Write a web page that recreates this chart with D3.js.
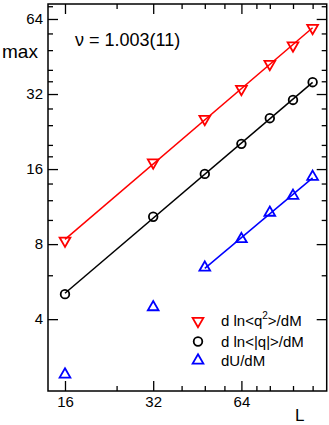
<!DOCTYPE html>
<html><head><meta charset="utf-8">
<script src="https://cdn.jsdelivr.net/npm/d3@7"></script>
<style>body{margin:0;background:#fff}svg{display:block}</style>
</head><body>
<svg id="c" width="329" height="425"></svg>
<script>
const L = [16, 32, 48, 64, 80, 96, 112];
const dlnq2 = [8.26, 17.0, 25.4, 33.5, 42.2, 50.1, 58.9];
const dlnq = [5.04, 10.3, 15.3, 20.2, 25.6, 30.3, 35.7];
const dU = [2.4, 4.47, 6.44, 8.38, 10.7, 12.5, 14.9];
const xMajor = [16, 32, 64];
const xMinor = [24, 40, 48, 56, 72, 80, 96, 112];
const yMajor = [4, 8, 16, 32, 64];
const yMinor = [6, 10, 12, 14, 18, 20, 24, 28, 36, 40, 48, 56, 72];
const legendLabels = ["d ln<q²>/dM", "d ln<|q|>/dM", "dU/dM"];
const nuText = "ν = 1.003(11)";

const m = {l: 48, t: 4, r: 326.7, b: 391};
const svg = d3.select("#c");
const x = d3.scaleLog().base(2).domain([14.0, 125.1]).range([m.l, m.r]);
const y = d3.scaleLog().base(2).domain([2.06, 73.5]).range([m.b, m.t]);
const font = "'Liberation Sans', Arial, Helvetica, sans-serif";

function axis(gen, tr, vals, size, labels, pad) {
  const a = gen.tickValues(vals).tickSizeInner(size).tickSizeOuter(0).tickPadding(pad || 5)
    .tickFormat(labels ? d3.format("d") : () => "");
  const g = svg.append("g").attr("transform", tr).call(a);
  g.select(".domain").remove();
  g.selectAll("line").attr("stroke", "#000").attr("stroke-width", 1.3);
  g.selectAll("text").attr("font-family", font).attr("font-size", 15).attr("fill", "#000");
  return g;
}
const W = m.r - m.l, H = m.b - m.t;
axis(d3.axisBottom(x), `translate(0,${m.b})`, xMajor, -10, true, 5);
axis(d3.axisBottom(x), `translate(0,${m.b})`, xMinor, -5, false);
axis(d3.axisTop(x), `translate(0,${m.t})`, xMajor, -10, false);
axis(d3.axisTop(x), `translate(0,${m.t})`, xMinor, -5, false);
axis(d3.axisLeft(y), `translate(${m.l},0)`, yMajor, -10, true, 5);
axis(d3.axisLeft(y), `translate(${m.l},0)`, yMinor, -5, false);
axis(d3.axisRight(y), `translate(${m.r},0)`, yMajor, -10, false);
axis(d3.axisRight(y), `translate(${m.r},0)`, yMinor, -5, false);

svg.append("rect").attr("x", m.l).attr("y", m.t).attr("width", W).attr("height", H)
  .attr("fill", "none").attr("stroke", "#000").attr("stroke-width", 1.5);

function fit(xs, ys) {
  const lx = xs.map(Math.log), ly = ys.map(Math.log);
  const n = lx.length, mx = d3.mean(lx), my = d3.mean(ly);
  let sxy = 0, sxx = 0;
  for (let i = 0; i < n; i++) { sxy += (lx[i]-mx)*(ly[i]-my); sxx += (lx[i]-mx)**2; }
  const b = sxy / sxx, a = my - b*mx;
  return v => Math.exp(a + b*Math.log(v));
}
const series = [
  {vals: dlnq2, color: "#ff0000", sym: "down", from: 0},
  {vals: dlnq, color: "#000000", sym: "circle", from: 0},
  {vals: dU, color: "#0000ff", sym: "up", from: 2}
];
const line = d3.line().x(d => x(d[0])).y(d => y(d[1]));
series.forEach(s => {
  const xs = L.slice(s.from), ys = s.vals.slice(s.from);
  const f = fit(xs, ys);
  const pts = [[xs[0], f(xs[0])], [xs[xs.length-1], f(xs[xs.length-1])]];
  svg.append("path").attr("d", line(pts)).attr("fill", "none")
    .attr("stroke", s.color).attr("stroke-width", 1.5);
});
const triUp = d3.symbol().type(d3.symbolTriangle).size(50);
function drawSym(g, sym, cx, cy, color) {
  if (sym === "circle") {
    g.append("circle").attr("cx", cx).attr("cy", cy).attr("r", 4.3)
      .attr("fill", "none").attr("stroke", color).attr("stroke-width", 1.8);
  } else {
    const rot = sym === "down" ? 180 : 0;
    g.append("path").attr("d", triUp())
      .attr("transform", `translate(${cx},${cy}) rotate(${rot})`)
      .attr("fill", "none").attr("stroke", color).attr("stroke-width", 1.8);
  }
}
series.forEach(s => {
  const g = svg.append("g");
  L.forEach((l, i) => drawSym(g, s.sym, x(l), y(s.vals[i]), s.color));
});

const lg = svg.append("g");
const rowsY = [321, 341.5, 360.5];
series.forEach((s, i) => drawSym(lg, s.sym, 198, rowsY[i], s.color));
const tf = lg.append("text").attr("x", 221).attr("y", rowsY[0] + 5).attr("font-family", font).attr("font-size", 15);
tf.append("tspan").text("d ln<q");
tf.append("tspan").attr("font-size", 10).attr("dy", -7).text("2");
tf.append("tspan").attr("dy", 7).text(">/dM");
lg.append("text").attr("x", 221).attr("y", rowsY[1] + 5).attr("font-family", font).attr("font-size", 15).text(legendLabels[1]);
lg.append("text").attr("x", 221).attr("y", rowsY[2] + 5).attr("font-family", font).attr("font-size", 15).text(legendLabels[2]);

svg.append("text").attr("x", 2).attr("y", 58).attr("font-family", font).attr("font-size", 19).text("max");
svg.append("text").attr("x", 295).attr("y", 421).attr("font-family", font).attr("font-size", 17).text("L");
svg.append("text").attr("x", 75).attr("y", 46).attr("font-family", font).attr("font-size", 18).text(nuText);
</script>
</body></html>
